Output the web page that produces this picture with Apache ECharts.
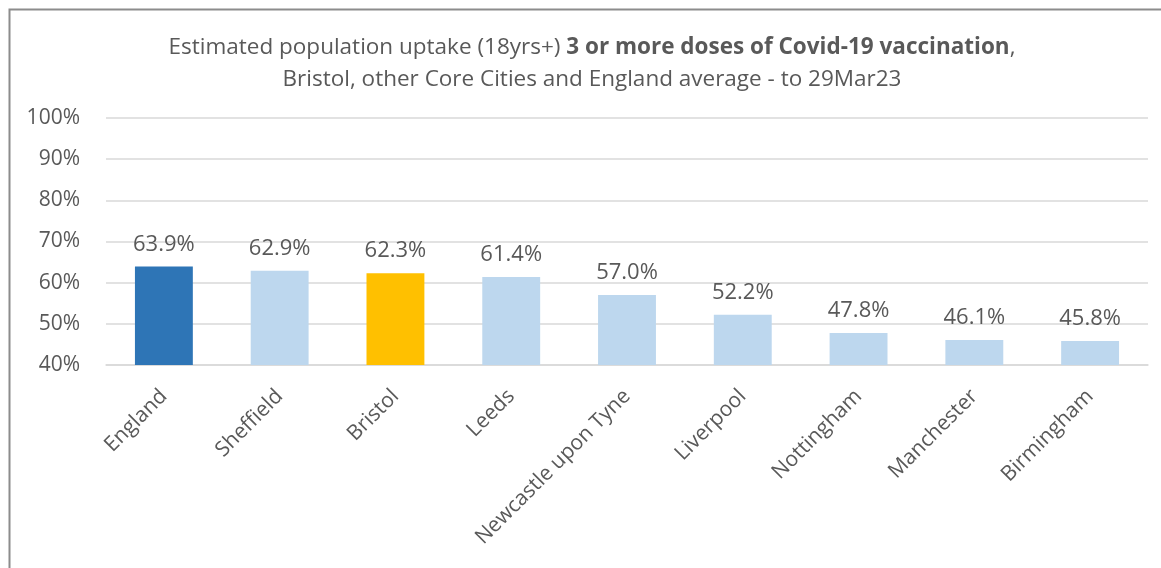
<!DOCTYPE html>
<html>
<head>
<meta charset="utf-8">
<script src="https://cdn.jsdelivr.net/npm/echarts@6/dist/echarts.min.js"></script>
<style>
    html, body { margin: 0; padding: 0; background: #fff; }
    #chart { width: 1161px; height: 568px; }
</style>
</head>
<body>
<div id="chart"></div>
<script>
const areas = ['England', 'Sheffield', 'Bristol', 'Leeds', 'Newcastle upon Tyne', 'Liverpool', 'Nottingham', 'Manchester', 'Birmingham']
const uptake = [63.9, 62.9, 62.3, 61.4, 57.0, 52.2, 47.8, 46.1, 45.8]
const barColours = ['#2E75B6', '#BDD7EE', '#FFC000', '#BDD7EE', '#BDD7EE', '#BDD7EE', '#BDD7EE', '#BDD7EE', '#BDD7EE']

const font = '"Open Sans", "Noto Sans", sans-serif'
const grey = '#595959'

let myChart = echarts.init(document.getElementById('chart'))
let option = {
    textStyle: { fontFamily: font },
    title: {
        left: 587,
        top: 27,
        textAlign: 'center',
        text: '{n|Estimated population uptake (18yrs+) }{b|3 or more doses of Covid-19 vaccination}{n|,}\n{n|Bristol, other Core Cities and England average - to 29Mar23}',
        textStyle: {
            fontWeight: 'normal',
            rich: {
                n: { fontSize: 22.5, color: grey, fontFamily: font, fontWeight: 'normal', lineHeight: 32 },
                b: { fontSize: 22.5, color: grey, fontFamily: font, fontWeight: 'bold', lineHeight: 32 },
            },
        },
    },
    graphic: [
        {
            type: 'rect',
            shape: { x: 9.5, y: 9.5, width: 1200, height: 600 },
            style: { fill: 'none', stroke: '#8c8c8c', lineWidth: 2 },
            silent: true,
        },
    ],
    grid: {
        left: 106,
        right: 13,
        top: 118,
        bottom: 203,
        containLabel: false,
    },
    xAxis: {
        type: 'category',
        data: areas,
        axisLine: { lineStyle: { color: '#d9d9d9', width: 1.5 } },
        axisTick: { show: false },
        axisLabel: {
            rotate: 45,
            fontSize: 21,
            color: grey,
            margin: 28,
            interval: 0,
        },
    },
    yAxis: {
        type: 'value',
        min: 40,
        max: 100,
        interval: 10,
        axisLine: { show: false },
        axisTick: { show: false },
        splitLine: { lineStyle: { color: '#d9d9d9', width: 1.5 } },
        axisLabel: {
            fontSize: 21,
            color: grey,
            margin: 26,
            formatter: '{value}%',
        },
    },
    series: [
        {
            type: 'bar',
            barWidth: '50%',
            data: uptake.map((v, i) => ({
                value: v,
                itemStyle: { color: barColours[i] },
            })),
            label: {
                show: true,
                position: 'top',
                distance: 11,
                fontSize: 22,
                color: grey,
                formatter: p => p.value.toFixed(1) + '%',
            },
        },
    ],
}
myChart.setOption(option, true)
</script>
</body>
</html>
